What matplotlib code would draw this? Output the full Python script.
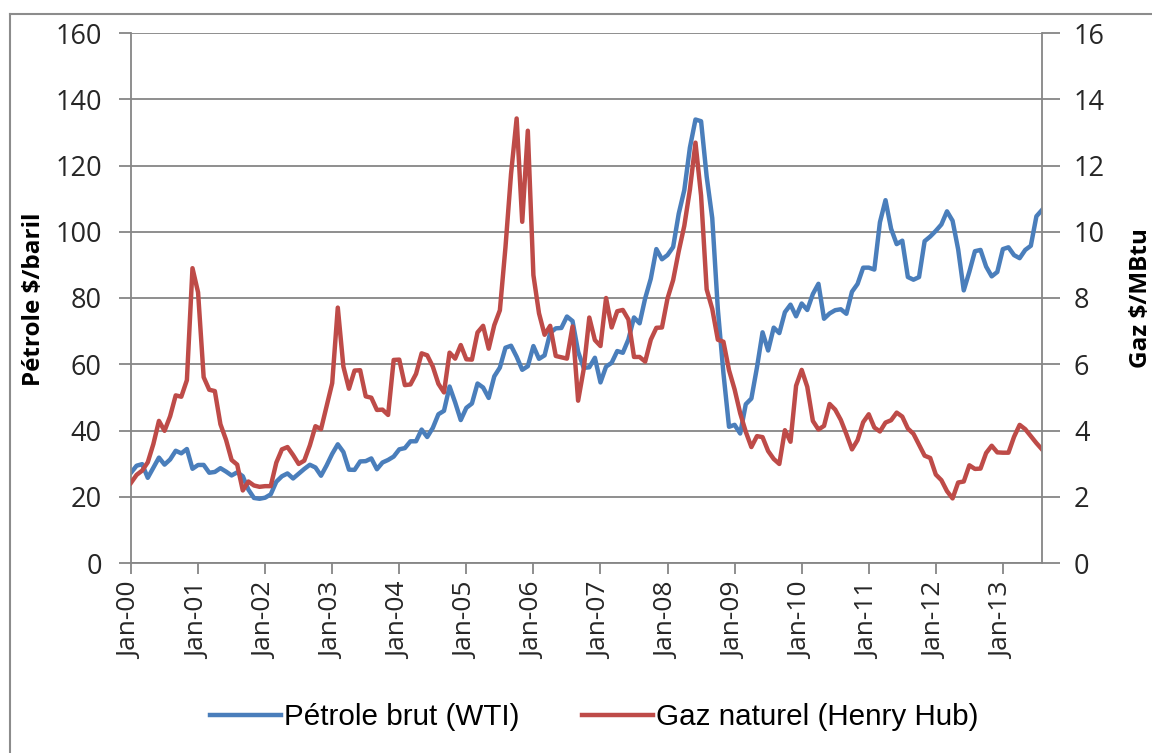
import matplotlib.pyplot as plt
from matplotlib.lines import Line2D

# Prix mensuels, janvier 2000 - aout 2013
wti = [
    27.26, 29.37, 29.84, 25.72, 28.79, 31.82, 29.70, 31.26, 33.88, 33.11, 34.42, 28.44,
    29.59, 29.61, 27.25, 27.49, 28.63, 27.60, 26.43, 27.37, 26.20, 22.17, 19.64, 19.39,
    19.72, 20.72, 24.53, 26.18, 27.04, 25.52, 26.97, 28.39, 29.66, 28.84, 26.35, 29.46,
    32.95, 35.83, 33.51, 28.17, 28.11, 30.66, 30.75, 31.57, 28.31, 30.34, 31.11, 32.13,
    34.31, 34.69, 36.74, 36.75, 40.28, 38.03, 40.78, 44.90, 45.94, 53.28, 48.47, 43.15,
    46.84, 48.15, 54.19, 52.98, 49.83, 56.35, 59.00, 64.99, 65.59, 62.26, 58.32, 59.41,
    65.49, 61.63, 62.69, 69.44, 70.84, 70.95, 74.41, 73.04, 63.80, 58.89, 59.08, 61.96,
    54.51, 59.28, 60.44, 63.98, 63.46, 67.49, 74.12, 72.36, 79.92, 85.80, 94.77, 91.69,
    92.97, 95.39, 105.45, 112.58, 125.40, 133.88, 133.37, 116.67, 104.11, 76.61, 57.31, 41.12,
    41.71, 39.09, 47.94, 49.65, 59.03, 69.64, 64.15, 71.05, 69.41, 75.72, 77.99, 74.47,
    78.33, 76.39, 81.20, 84.29, 73.74, 75.34, 76.32, 76.60, 75.24, 81.89, 84.25, 89.15,
    89.17, 88.58, 102.86, 109.53, 100.90, 96.26, 97.30, 86.33, 85.52, 86.32, 97.16, 98.56,
    100.27, 102.20, 106.16, 103.32, 94.66, 82.30, 87.90, 94.13, 94.51, 89.49, 86.53, 87.86,
    94.76, 95.31, 92.94, 92.02, 94.51, 95.77, 104.67, 106.57,
]
henry_hub = [
    2.42, 2.66, 2.79, 3.04, 3.59, 4.29, 3.99, 4.43, 5.06, 5.02, 5.52, 8.90,
    8.17, 5.61, 5.23, 5.19, 4.19, 3.72, 3.11, 2.97, 2.19, 2.46, 2.34, 2.30,
    2.32, 2.32, 3.03, 3.43, 3.50, 3.26, 2.99, 3.09, 3.55, 4.13, 4.04, 4.74,
    5.43, 7.71, 5.93, 5.26, 5.81, 5.82, 5.03, 4.99, 4.62, 4.63, 4.47, 6.13,
    6.14, 5.37, 5.39, 5.71, 6.33, 6.27, 5.93, 5.41, 5.15, 6.35, 6.17, 6.58,
    6.15, 6.14, 6.96, 7.16, 6.47, 7.18, 7.63, 9.53, 11.75, 13.42, 10.30, 13.05,
    8.69, 7.54, 6.89, 7.16, 6.25, 6.21, 6.17, 7.14, 4.90, 5.85, 7.41, 6.73,
    6.55, 8.00, 7.11, 7.60, 7.64, 7.35, 6.22, 6.22, 6.08, 6.74, 7.10, 7.11,
    7.99, 8.54, 9.41, 10.18, 11.27, 12.69, 11.09, 8.26, 7.67, 6.74, 6.68, 5.82,
    5.24, 4.52, 3.96, 3.50, 3.83, 3.80, 3.38, 3.14, 2.99, 4.01, 3.66, 5.35,
    5.83, 5.32, 4.29, 4.03, 4.14, 4.80, 4.63, 4.32, 3.89, 3.43, 3.71, 4.25,
    4.49, 4.09, 3.97, 4.24, 4.31, 4.54, 4.42, 4.06, 3.90, 3.57, 3.24, 3.17,
    2.67, 2.50, 2.17, 1.95, 2.43, 2.46, 2.95, 2.84, 2.85, 3.32, 3.54, 3.34,
    3.33, 3.33, 3.81, 4.17, 4.04, 3.83, 3.62, 3.43,
]
year_labels = ["Jan-%02d" % y for y in range(0, 14)]

months = list(range(len(wti)))
grey = "#868686"
tick_font = "Open Sans"

fig = plt.figure(figsize=(11.52, 7.53), dpi=100)
ax = fig.add_axes([131 / 1152, 1 - 563 / 753, (1042 - 131) / 1152, (563 - 33) / 753])
ax2 = ax.twinx()

ax.plot(months, wti, color="#4A7EBB", linewidth=3.2, label="Pétrole brut (WTI)")
ax2.plot(months, henry_hub, color="#BE4B48", linewidth=3.2, label="Gaz naturel (Henry Hub)")

ax.set_xlim(0, len(wti) - 1)
ax.set_ylim(0, 160)
ax2.set_ylim(0, 16)
ax.set_yticks(range(0, 161, 20))
ax2.set_yticks(range(0, 17, 2))
ax.set_xticks(range(0, len(wti), 12))
ax.set_xticklabels(year_labels, rotation=90, fontsize=19, family=tick_font, color="#262626")

ax.grid(axis="y", color=grey, linewidth=1.3)
ax.set_axisbelow(True)
for a in (ax, ax2):
    for side in ("top", "left", "right", "bottom"):
        a.spines[side].set_visible(False)
ax.spines["left"].set_visible(True)
ax.spines["bottom"].set_visible(True)
ax2.spines["right"].set_visible(True)
for s in (ax.spines["left"], ax.spines["bottom"], ax2.spines["right"]):
    s.set_color(grey)
    s.set_linewidth(1.3)

ax.tick_params(axis="y", length=9, color=grey, width=1.3, labelsize=19.5, labelcolor="#262626", pad=12)
ax.tick_params(axis="x", length=8, color=grey, width=1.3, pad=6)
ax2.tick_params(axis="y", length=13, color=grey, width=1.3, labelsize=19.5, labelcolor="#262626", pad=10)
for lab in ax.get_yticklabels() + ax2.get_yticklabels():
    lab.set_family(tick_font)

fig.text(34 / 1152, 1 - 299 / 753, "Pétrole $/baril", rotation=90, ha="center", va="center",
         fontsize=17.5, fontweight="bold", family=tick_font)
fig.text(1141 / 1152, 1 - 298 / 753, "Gaz $/MBtu", rotation=90, ha="center", va="center",
         fontsize=17.5, fontweight="bold", family=tick_font)

handles = ax.get_lines() + ax2.get_lines()
fig.legend(handles, [h.get_label() for h in handles], loc="center",
           bbox_to_anchor=(0.516, 1 - 717 / 753), ncol=2, frameon=False,
           handlelength=2.4, handletextpad=0.1, columnspacing=2.1,
           prop={"family": ["Liberation Sans", "DejaVu Sans"], "size": 21.3})

# cadre du graphique (bords gauche et haut)
fig.add_artist(Line2D([10 / 1152, 10 / 1152], [0, 1 - 14 / 753], transform=fig.transFigure,
                      color="#8c8c8c", linewidth=1.5))
fig.add_artist(Line2D([10 / 1152, 1], [1 - 14 / 753, 1 - 14 / 753], transform=fig.transFigure,
                      color="#8c8c8c", linewidth=1.5))

fig.savefig("out.png", dpi=100, facecolor="white")
